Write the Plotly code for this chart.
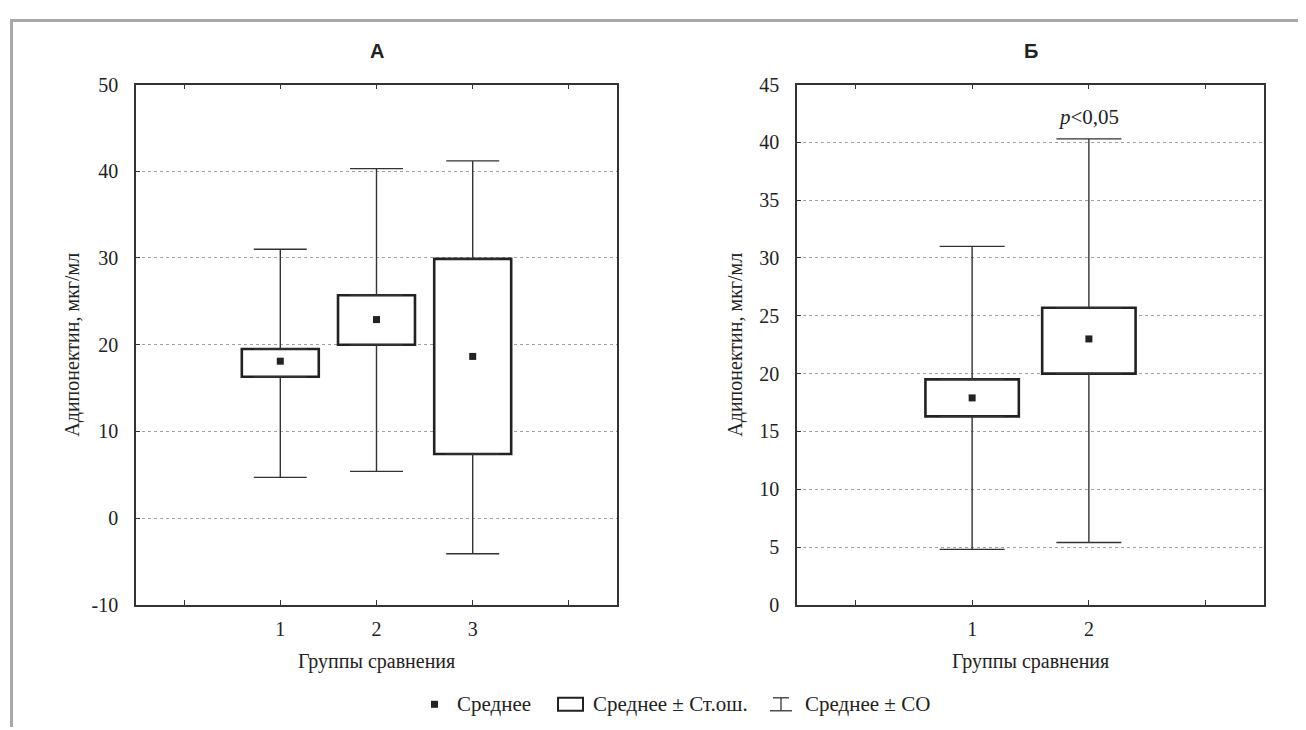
import plotly.graph_objects as go

W, H = 1306, 730

# ---------------- data ----------------
groups_A = [1, 2, 3]
ticks_A = [0, 1, 2, 3, 4]
ticktext_A = ["", "1", "2", "3", ""]
mean_A = [18.1, 22.9, 18.65]
se_low_A = [16.3, 20.0, 7.4]
se_high_A = [19.5, 25.7, 29.9]
sd_low_A = [4.7, 5.4, -4.1]
sd_high_A = [31.0, 40.3, 41.2]
yticks_A = [-10, 0, 10, 20, 30, 40, 50]
yticktext_A = ["-10", "0", "10", "20", "30", "40", "50"]

groups_B = [1, 2]
ticks_B = [0, 1, 2, 3]
ticktext_B = ["", "1", "2", ""]
mean_B = [17.9, 23.0]
se_low_B = [16.3, 20.0]
se_high_B = [19.5, 25.7]
sd_low_B = [4.8, 5.4]
sd_high_B = [31.0, 40.3]
yticks_B = [0, 5, 10, 15, 20, 25, 30, 35, 40, 45]
yticktext_B = ["0", "5", "10", "15", "20", "25", "30", "35", "40", "45"]

title_A = "А"
title_B = "Б"
y_title = "Адипонектин, мкг/мл"
x_title = "Группы сравнения"
legend_labels = ["Среднее", "Среднее ± Ст.ош.", "Среднее ± СО"]
p_text = "<i>p</i>&lt;0,05"

SERIF = "Liberation Serif, Times New Roman, serif"
SANS = "Liberation Sans, Arial, sans-serif"
INK = "#222222"

# screen-pixel -> paper-fraction helpers (page offset/scale compensation)
OX, OY, SY = 8.0, 18.4, 0.971


def px(xr):
    return (xr - OX) / W


def py(yr):
    return 1 - ((yr - OY) / SY) / H


fig = go.Figure()


def add_panel(groups, mean, se_low, se_high, sd_low, sd_high, xa, ya, capw):
    fig.add_trace(go.Bar(
        x=groups, y=[h - l for h, l in zip(se_high, se_low)], base=se_low,
        width=0.8, marker=dict(color="white", line=dict(color=INK, width=2.6)),
        xaxis=xa, yaxis=ya, showlegend=False, hoverinfo="skip"))
    n = len(groups)
    fig.add_trace(go.Scatter(
        x=groups, y=se_high, mode="markers",
        marker=dict(size=1, color="rgba(0,0,0,0)"),
        error_y=dict(type="data", symmetric=False,
                     array=[s - h for s, h in zip(sd_high, se_high)],
                     arrayminus=[0] * n, width=capw, thickness=1.4, color="#333"),
        xaxis=xa, yaxis=ya, showlegend=False, hoverinfo="skip"))
    fig.add_trace(go.Scatter(
        x=groups, y=se_low, mode="markers",
        marker=dict(size=1, color="rgba(0,0,0,0)"),
        error_y=dict(type="data", symmetric=False,
                     array=[0] * n,
                     arrayminus=[l - s for l, s in zip(se_low, sd_low)],
                     width=capw, thickness=1.4, color="#333"),
        xaxis=xa, yaxis=ya, showlegend=False, hoverinfo="skip"))
    fig.add_trace(go.Scatter(
        x=groups, y=mean, mode="markers",
        marker=dict(symbol="square", size=7, color=INK, line=dict(width=0)),
        xaxis=xa, yaxis=ya, showlegend=False, hoverinfo="skip"))


add_panel(groups_A, mean_A, se_low_A, se_high_A, sd_low_A, sd_high_A, "x", "y", 26.5)
add_panel(groups_B, mean_B, se_low_B, se_high_B, sd_low_B, sd_high_B, "x2", "y2", 32.5)

dA = [px(136), px(617)]
dB = [px(797), px(1264)]
dY = [py(605), py(84)]

xcommon = dict(showline=True, linecolor="#333", linewidth=1.5, mirror="ticks",
               ticks="inside", ticklen=5, tickwidth=1.3, tickcolor="#333",
               showgrid=False, zeroline=False, fixedrange=True,
               tickfont=dict(family=SERIF, size=20, color=INK),
               ticklabelstandoff=5)
ycommon = dict(showline=True, linecolor="#333", linewidth=1.5, mirror=True,
               ticks="inside", ticklen=4, tickwidth=1.3, tickcolor="#333",
               showgrid=True, gridcolor="#a0a0a0", gridwidth=1, griddash="dot",
               zeroline=False, fixedrange=True,
               tickfont=dict(family=SERIF, size=20, color=INK),
               ticklabelstandoff=12)

fig.update_layout(
    width=W, height=H, margin=dict(l=0, r=0, t=0, b=0),
    paper_bgcolor="white", plot_bgcolor="white", barmode="overlay",
    xaxis=dict(domain=dA, range=[-0.5, 4.5], tickvals=ticks_A, ticktext=ticktext_A,
               anchor="y", **xcommon),
    yaxis=dict(domain=dY, range=[-10, 50], tickvals=yticks_A, ticktext=yticktext_A,
               anchor="x", **ycommon),
    xaxis2=dict(domain=dB, range=[-0.5, 3.5], tickvals=ticks_B, ticktext=ticktext_B,
                anchor="y2", **xcommon),
    yaxis2=dict(domain=dY, range=[0, 45], tickvals=yticks_B, ticktext=yticktext_B,
                anchor="x2", **ycommon),
)

ann = []
for t, d in ((title_A, dA), (title_B, dB)):
    ann.append(dict(text="<b>%s</b>" % t, x=(d[0] + d[1]) / 2, y=py(50),
                    xref="paper", yref="paper", xanchor="center", yanchor="middle",
                    showarrow=False, font=dict(family=SANS, size=20, color=INK)))
for d, yx in ((dA, 73), (dB, 736)):
    ann.append(dict(text=x_title, x=(d[0] + d[1]) / 2, y=py(662), xref="paper", yref="paper",
                    xanchor="center", yanchor="middle", showarrow=False,
                    font=dict(family=SERIF, size=20, color=INK)))
    ann.append(dict(text=y_title, x=px(yx), y=(dY[0] + dY[1]) / 2, xref="paper", yref="paper",
                    xanchor="center", yanchor="middle",
                    textangle=-90, showarrow=False, font=dict(family=SERIF, size=20, color=INK)))
ann.append(dict(text=p_text, x=groups_B[1], y=sd_high_B[1], xref="x2", yref="y2",
                xanchor="center", yanchor="bottom", yshift=8, showarrow=False,
                font=dict(family=SERIF, size=21, color=INK)))
for label, lx in zip(legend_labels, (455, 591, 803)):
    ann.append(dict(text=label, x=px(lx), y=py(704), xref="paper", yref="paper",
                    xanchor="left", yanchor="middle", showarrow=False,
                    font=dict(family=SERIF, size=21, color=INK)))
fig.update_layout(annotations=ann)

shapes = []
# page frame (left and top)
shapes.append(dict(type="line", xref="paper", yref="paper", x0=px(11.5), x1=px(11.5),
                   y0=0, y1=1, line=dict(color="#a8a8a8", width=3)))
shapes.append(dict(type="line", xref="paper", yref="paper", x0=px(10), x1=1,
                   y0=1 - 1.5 / H, y1=1 - 1.5 / H, line=dict(color="#a8a8a8", width=3)))
# legend symbols
shapes.append(dict(type="rect", xref="paper", yref="paper", x0=px(431), x1=px(438),
                   y0=py(708), y1=py(701), fillcolor=INK, line=dict(width=0)))
shapes.append(dict(type="rect", xref="paper", yref="paper", x0=px(558), x1=px(583),
                   y0=py(711), y1=py(698), fillcolor="white", line=dict(color=INK, width=2)))
shapes.append(dict(type="line", xref="paper", yref="paper", x0=px(770), x1=px(792),
                   y0=py(711), y1=py(711), line=dict(color="#333", width=1.3)))
shapes.append(dict(type="line", xref="paper", yref="paper", x0=px(773), x1=px(789),
                   y0=py(698), y1=py(698), line=dict(color="#333", width=1.3)))
shapes.append(dict(type="line", xref="paper", yref="paper", x0=px(781), x1=px(781),
                   y0=py(711), y1=py(698), line=dict(color="#333", width=1.3)))
fig.update_layout(shapes=shapes)

fig.write_html("out.html")
